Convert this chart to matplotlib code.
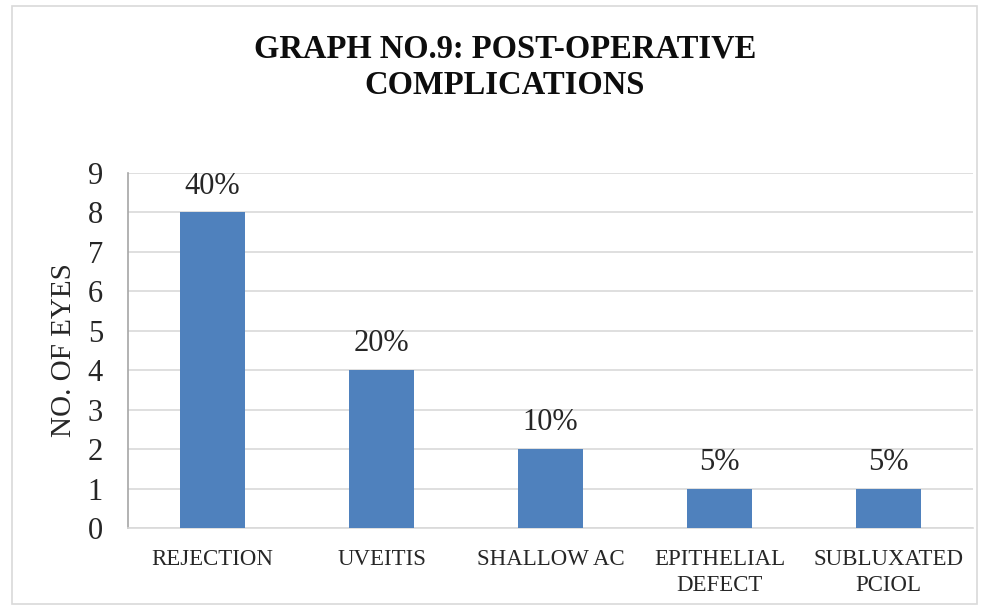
import matplotlib.pyplot as plt
from matplotlib.patches import Rectangle

categories = ["REJECTION", "UVEITIS", "SHALLOW AC", "EPITHELIAL\nDEFECT", "SUBLUXATED\nPCIOL"]
eyes = [8, 4, 2, 1, 1]
percent_labels = ["40%", "20%", "10%", "5%", "5%"]

plt.rcParams["font.family"] = ["Liberation Serif", "DejaVu Serif"]

fig = plt.figure(figsize=(9.89, 6.07), dpi=100)
W, H = 989, 607
ax = fig.add_axes([128 / W, 1 - 528 / H, (973 - 128) / W, (528 - 173) / H])

x = range(len(categories))
bars = ax.bar(x, eyes, width=0.38, color="#4f81bd", zorder=3)

for b, lab in zip(bars, percent_labels):
    ax.text(b.get_x() + b.get_width() / 2, b.get_height() + 0.3, lab,
            ha="center", va="bottom", fontsize=22, color="#262626")

ax.set_xlim(-0.5, len(categories) - 0.5)
ax.set_ylim(0, 9)
ax.set_yticks(range(10))
ax.tick_params(axis="y", labelsize=22, length=0, pad=18, colors="#262626")
ax.set_xticks(list(x))
ax.set_xticklabels(categories, fontsize=16.5, linespacing=1.3)
ax.tick_params(axis="x", length=0, pad=15, colors="#262626")

ax.grid(axis="y", color="#d9d9d9", linewidth=1.2, zorder=0)
for side in ["top", "right"]:
    ax.spines[side].set_visible(False)
ax.spines["left"].set_color("#a6a6a6")
ax.spines["bottom"].set_color("#d9d9d9")
ax.spines["left"].set_linewidth(1.2)
ax.spines["bottom"].set_linewidth(1.2)

ax.set_ylabel("NO. OF EYES", fontsize=21, color="#262626", labelpad=8)

fig.text(505 / W, 1 - 67 / H, "GRAPH NO.9: POST-OPERATIVE\nCOMPLICATIONS",
         ha="center", va="center", fontsize=23.5, fontweight="bold",
         linespacing=1.25, color="#0d0d0d")

# light frame around the chart area
fig.patches.append(Rectangle((12 / W, 3 / H), (977 - 12) / W, (601 - 3) / H,
                             transform=fig.transFigure, fill=False,
                             edgecolor="#d9d9d9", linewidth=1.2))

fig.savefig("out.png", dpi=100)
